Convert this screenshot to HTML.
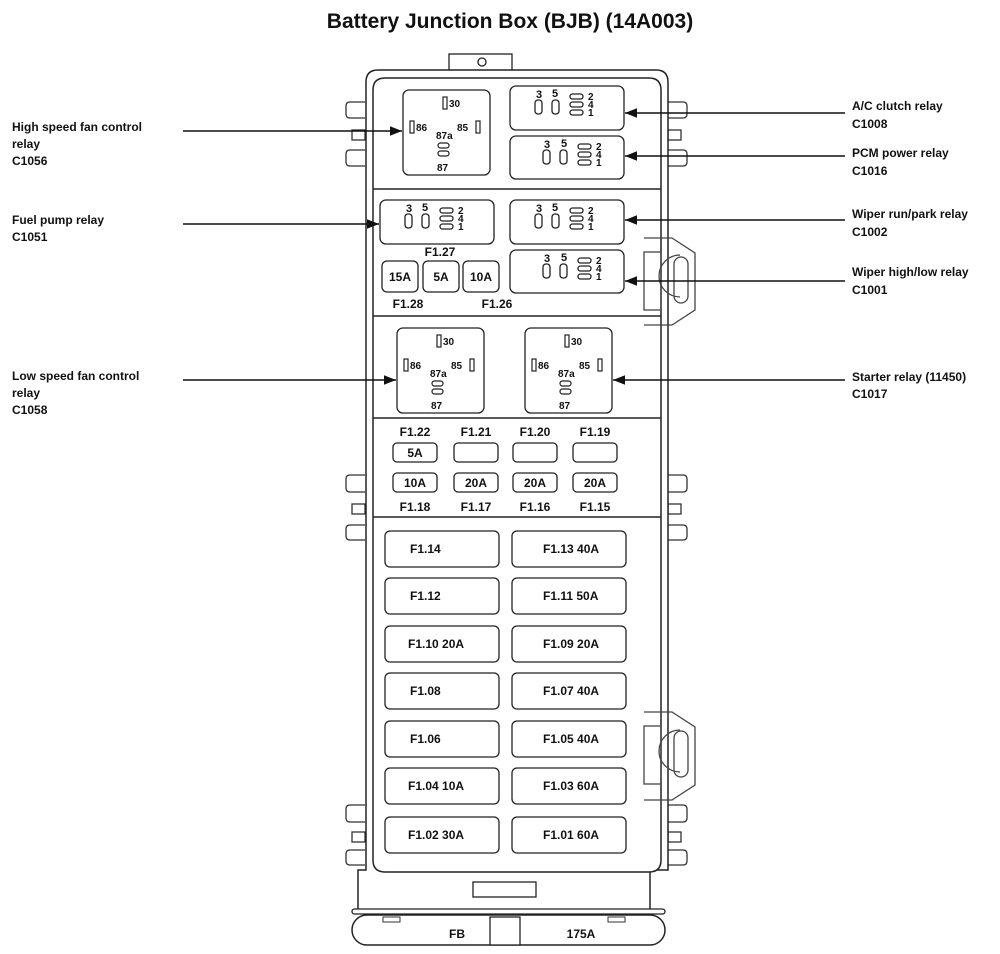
<!DOCTYPE html>
<html><head><meta charset="utf-8"><style>
html,body{margin:0;padding:0;background:#fff}
svg{display:block}
text{font-family:"Liberation Sans",Arial,sans-serif;font-weight:bold;fill:#111}
</style></head><body>
<svg width="1000" height="954" viewBox="0 0 1000 954" xmlns="http://www.w3.org/2000/svg">
<defs>
<marker id="ar" viewBox="0 0 10 10" refX="10" refY="5" markerWidth="8" markerHeight="8" orient="auto"><path d="M0,1 L10,5 L0,9 z" fill="#111"/></marker>
<g id="sr">
 <rect x="0" y="0" width="114" height="44" rx="6" fill="#fff" stroke="#222" stroke-width="1.3"/>
 <text x="26" y="12" font-size="11">3</text><text x="42" y="11" font-size="11">5</text>
 <rect x="25" y="14" width="7" height="14" rx="3" fill="none" stroke="#222" stroke-width="1.3"/>
 <rect x="42" y="14" width="7" height="14" rx="3" fill="none" stroke="#222" stroke-width="1.3"/>
 <rect x="60" y="8" width="13" height="5" rx="2.5" fill="none" stroke="#222" stroke-width="1.3"/>
 <rect x="60" y="16" width="13" height="5" rx="2.5" fill="none" stroke="#222" stroke-width="1.3"/>
 <rect x="60" y="24" width="13" height="5" rx="2.5" fill="none" stroke="#222" stroke-width="1.3"/>
 <text x="78" y="14" font-size="10">2</text><text x="78" y="22" font-size="10">4</text><text x="78" y="30" font-size="10">1</text>
</g>
<g id="sr2">
 <rect x="0" y="0" width="114" height="43" rx="6" fill="#fff" stroke="#222" stroke-width="1.3"/>
 <g transform="translate(8,0)">
 <text x="26" y="12" font-size="11">3</text><text x="43" y="11" font-size="11">5</text>
 <rect x="25" y="14" width="7" height="14" rx="3" fill="none" stroke="#222" stroke-width="1.3"/>
 <rect x="42" y="14" width="7" height="14" rx="3" fill="none" stroke="#222" stroke-width="1.3"/>
 <rect x="60" y="8" width="13" height="5" rx="2.5" fill="none" stroke="#222" stroke-width="1.3"/>
 <rect x="60" y="16" width="13" height="5" rx="2.5" fill="none" stroke="#222" stroke-width="1.3"/>
 <rect x="60" y="24" width="13" height="5" rx="2.5" fill="none" stroke="#222" stroke-width="1.3"/>
 <text x="78" y="14" font-size="10">2</text><text x="78" y="22" font-size="10">4</text><text x="78" y="30" font-size="10">1</text>
 </g>
</g>
<g id="br">
 <rect x="0" y="0" width="87" height="85" rx="6" fill="#fff" stroke="#222" stroke-width="1.3"/>
 <rect x="40" y="7" width="4" height="12" fill="none" stroke="#222" stroke-width="1.2"/>
 <text x="46" y="17" font-size="10">30</text>
 <rect x="7" y="31" width="4" height="12" fill="none" stroke="#222" stroke-width="1.2"/>
 <text x="13" y="41" font-size="10">86</text>
 <text x="54" y="41" font-size="10">85</text>
 <rect x="73" y="31" width="4" height="12" fill="none" stroke="#222" stroke-width="1.2"/>
 <text x="33" y="49" font-size="10">87a</text>
 <rect x="35" y="53" width="11" height="5" rx="2.5" fill="none" stroke="#222" stroke-width="1.2"/>
 <rect x="35" y="61" width="11" height="5" rx="2.5" fill="none" stroke="#222" stroke-width="1.2"/>
 <text x="34" y="81" font-size="10">87</text>
</g>
</defs>

<text x="510" y="28" font-size="21" text-anchor="middle">Battery Junction Box (BJB) (14A003)</text>

<!-- top tab -->
<rect x="449" y="54" width="63" height="18" fill="#fff" stroke="#222" stroke-width="1.3"/>
<circle cx="482" cy="62" r="4" fill="none" stroke="#222" stroke-width="1.3"/>

<!-- side clips -->
<g fill="none" stroke="#333" stroke-width="1.3">
<path d="M365,102 L350,102 Q346,102 346,106 L346,114 Q346,118 350,118 L365,118"/>
<rect x="352" y="130" width="13" height="10"/>
<path d="M365,150 L350,150 Q346,150 346,154 L346,162 Q346,166 350,166 L365,166"/>
<path d="M668,102 L683,102 Q687,102 687,106 L687,114 Q687,118 683,118 L668,118"/>
<rect x="668" y="130" width="13" height="10"/>
<path d="M668,150 L683,150 Q687,150 687,154 L687,162 Q687,166 683,166 L668,166"/>
<path d="M365,475 L350,475 Q346,475 346,479 L346,488 Q346,492 350,492 L365,492"/>
<rect x="352" y="504" width="13" height="10"/>
<path d="M365,525 L350,525 Q346,525 346,529 L346,536 Q346,540 350,540 L365,540"/>
<path d="M668,475 L683,475 Q687,475 687,479 L687,488 Q687,492 683,492 L668,492"/>
<rect x="668" y="504" width="13" height="10"/>
<path d="M668,525 L683,525 Q687,525 687,529 L687,536 Q687,540 683,540 L668,540"/>
<path d="M365,805 L350,805 Q346,805 346,809 L346,818 Q346,822 350,822 L365,822"/>
<rect x="352" y="832" width="13" height="10"/>
<path d="M365,850 L350,850 Q346,850 346,854 L346,861 Q346,865 350,865 L365,865"/>
<path d="M668,805 L683,805 Q687,805 687,809 L687,818 Q687,822 683,822 L668,822"/>
<rect x="668" y="832" width="13" height="10"/>
<path d="M668,850 L683,850 Q687,850 687,854 L687,861 Q687,865 683,865 L668,865"/>
</g>

<!-- body -->
<path d="M358,910 L358,870 L366,870 L366,82 Q366,70 378,70 L656,70 Q668,70 668,82 L668,870 L650,870 L650,910" fill="#fff" stroke="#222" stroke-width="1.5"/>
<path d="M373,860 L373,90 Q373,78 385,78 L649,78 Q661,78 661,90 L661,860 Q661,872 649,872 L385,872 Q373,872 373,860 Z" fill="#fff" stroke="#222" stroke-width="1.5"/>

<!-- right clamps (over body) -->
<g fill="none" stroke="#444" stroke-width="1.3">
<path d="M644,238 L672,238 L695,253 L695,310 L672,325 L644,325"/>
<rect x="644" y="252" width="17" height="58"/>
<path d="M680,255 A20,20 0 0 0 680,297"/>
<rect x="674" y="257" width="14" height="46" rx="7"/>
<path d="M644,712 L672,712 L695,727 L695,785 L672,800 L644,800"/>
<rect x="644" y="726" width="17" height="58"/>
<path d="M680,730 A20,20 0 0 0 680,772"/>
<rect x="674" y="731" width="14" height="46" rx="7"/>
</g>

<rect x="473" y="882" width="63" height="15" fill="#fff" stroke="#222" stroke-width="1.3"/>
<rect x="352" y="909" width="313" height="5" rx="2.5" fill="#fff" stroke="#222" stroke-width="1.3"/>
<rect x="352" y="915" width="313" height="30" rx="15" fill="#fff" stroke="#222" stroke-width="1.5"/>
<rect x="490" y="917" width="30" height="28" fill="#fff" stroke="#222" stroke-width="1.3"/>
<rect x="383" y="917" width="17" height="5" fill="none" stroke="#333"/>
<rect x="608" y="917" width="17" height="5" fill="none" stroke="#333"/>
<text x="457" y="938" font-size="12" text-anchor="middle">FB</text>
<text x="581" y="938" font-size="12" text-anchor="middle">175A</text>

<!-- dividers -->
<g stroke="#222" stroke-width="1.5">
<line x1="373" y1="189" x2="661" y2="189"/>
<line x1="373" y1="316" x2="661" y2="316"/>
<line x1="373" y1="418" x2="661" y2="418"/>
<line x1="373" y1="517" x2="661" y2="517"/>
</g>

<!-- relays -->
<use href="#br" x="403" y="90"/>
<use href="#sr" x="510" y="86"/>
<use href="#sr2" x="510" y="136"/>
<use href="#sr" x="380" y="200"/>
<use href="#sr" x="510" y="200"/>
<use href="#sr2" x="510" y="250"/>
<use href="#br" x="397" y="328"/>
<use href="#br" x="525" y="328"/>

<!-- small fuses section 2 -->
<g fill="#fff" stroke="#222" stroke-width="1.3">
<rect x="382" y="261" width="36" height="31" rx="5"/>
<rect x="423" y="261" width="36" height="31" rx="5"/>
<rect x="463" y="261" width="36" height="31" rx="5"/>
</g>
<g font-size="12" text-anchor="middle">
<text x="400" y="281">15A</text><text x="441" y="281">5A</text><text x="481" y="281">10A</text>
<text x="440" y="256">F1.27</text><text x="408" y="308">F1.28</text><text x="497" y="308">F1.26</text>
</g>

<!-- mini fuses -->
<g fill="#fff" stroke="#222" stroke-width="1.3">
<rect x="393" y="443" width="44" height="19" rx="4"/><rect x="454" y="443" width="44" height="19" rx="4"/><rect x="513" y="443" width="44" height="19" rx="4"/><rect x="573" y="443" width="44" height="19" rx="4"/>
<rect x="393" y="473" width="44" height="19" rx="4"/><rect x="454" y="473" width="44" height="19" rx="4"/><rect x="513" y="473" width="44" height="19" rx="4"/><rect x="573" y="473" width="44" height="19" rx="4"/>
</g>
<g font-size="12" text-anchor="middle">
<text x="415" y="436">F1.22</text><text x="476" y="436">F1.21</text><text x="535" y="436">F1.20</text><text x="595" y="436">F1.19</text>
<text x="415" y="457">5A</text>
<text x="415" y="487">10A</text><text x="476" y="487">20A</text><text x="535" y="487">20A</text><text x="595" y="487">20A</text>
<text x="415" y="511">F1.18</text><text x="476" y="511">F1.17</text><text x="535" y="511">F1.16</text><text x="595" y="511">F1.15</text>
</g>

<!-- large fuses -->
<g fill="#fff" stroke="#222" stroke-width="1.3">
<rect x="385" y="531" width="114" height="36" rx="5"/><rect x="512" y="531" width="114" height="36" rx="5"/>
<rect x="385" y="578" width="114" height="36" rx="5"/><rect x="512" y="578" width="114" height="36" rx="5"/>
<rect x="385" y="626" width="114" height="36" rx="5"/><rect x="512" y="626" width="114" height="36" rx="5"/>
<rect x="385" y="673" width="114" height="36" rx="5"/><rect x="512" y="673" width="114" height="36" rx="5"/>
<rect x="385" y="721" width="114" height="36" rx="5"/><rect x="512" y="721" width="114" height="36" rx="5"/>
<rect x="385" y="768" width="114" height="36" rx="5"/><rect x="512" y="768" width="114" height="36" rx="5"/>
<rect x="385" y="817" width="114" height="36" rx="5"/><rect x="512" y="817" width="114" height="36" rx="5"/>
</g>
<g font-size="12">
<text x="410" y="553">F1.14</text><text x="543" y="553">F1.13  40A</text>
<text x="410" y="600">F1.12</text><text x="543" y="600">F1.11  50A</text>
<text x="408" y="648">F1.10  20A</text><text x="543" y="648">F1.09  20A</text>
<text x="410" y="695">F1.08</text><text x="543" y="695">F1.07  40A</text>
<text x="410" y="743">F1.06</text><text x="543" y="743">F1.05  40A</text>
<text x="408" y="790">F1.04  10A</text><text x="543" y="790">F1.03  60A</text>
<text x="408" y="839">F1.02  30A</text><text x="543" y="839">F1.01  60A</text>
</g>

<!-- arrows -->
<g stroke="#111" stroke-width="1.5" marker-end="url(#ar)">
<line x1="183" y1="131" x2="402" y2="131"/>
<line x1="183" y1="224" x2="379" y2="224"/>
<line x1="183" y1="380" x2="396" y2="380"/>
<line x1="845" y1="113" x2="625" y2="113"/>
<line x1="845" y1="156" x2="625" y2="156"/>
<line x1="845" y1="220" x2="625" y2="220"/>
<line x1="845" y1="281" x2="625" y2="281"/>
<line x1="845" y1="380" x2="613" y2="380"/>
</g>

<!-- labels -->
<g font-size="12">
<text x="12" y="131">High speed fan control</text><text x="12" y="148">relay</text><text x="12" y="165">C1056</text>
<text x="12" y="224">Fuel pump relay</text><text x="12" y="241">C1051</text>
<text x="12" y="380">Low speed fan control</text><text x="12" y="397">relay</text><text x="12" y="414">C1058</text>
<text x="852" y="110">A/C clutch relay</text><text x="852" y="128">C1008</text>
<text x="852" y="157">PCM power relay</text><text x="852" y="175">C1016</text>
<text x="852" y="218">Wiper run/park relay</text><text x="852" y="236">C1002</text>
<text x="852" y="276">Wiper high/low relay</text><text x="852" y="294">C1001</text>
<text x="852" y="381">Starter relay (11450)</text><text x="852" y="398">C1017</text>
</g>
</svg>
</body></html>
